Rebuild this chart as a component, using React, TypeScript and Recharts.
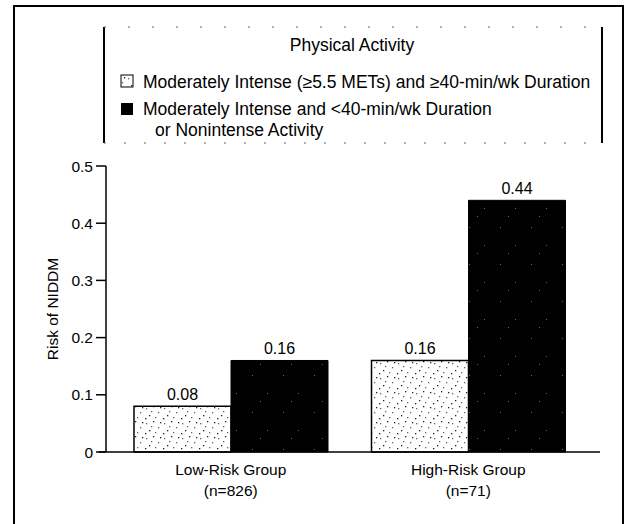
import React from 'react';
import { BarChart, Bar, XAxis, YAxis, LabelList } from 'recharts';

// valores
const CATEGORIES = ['Low-Risk Group', 'High-Risk Group'];
const SAMPLE_SIZES = ['(n=826)', '(n=71)'];
const INTENSE_LONG = [0.08, 0.16];
const OTHER_ACTIVITY = [0.16, 0.44];
const Y_TICKS = [0, 0.1, 0.2, 0.3, 0.4, 0.5];

const LEGEND_TITLE = 'Physical Activity';
const LEGEND_INTENSE = 'Moderately Intense (\u22655.5 METs) and \u226540-min/wk Duration';
const LEGEND_OTHER = ['Moderately Intense and <40-min/wk Duration', 'or Nonintense Activity'];

const FONT = "'Liberation Sans', Arial, Helvetica, sans-serif";

const data = CATEGORIES.map((group, i) => ({
  group,
  n: SAMPLE_SIZES[i],
  intense: INTENSE_LONG[i],
  other: OTHER_ACTIVITY[i],
}));

// pontinhos do "granulado" da impressão
const lightDots = [[2, 3], [9, 1], [14, 7], [5, 10], [11, 12], [16, 2], [7, 6], [1, 13]];
const darkDots = [[4, 5], [19, 23], [12, 31]];

const Patterns = () => (
  <svg width={0} height={0} style={{ position: 'absolute' }}>
    <defs>
      <pattern id="speckLight" width={18} height={15} patternUnits="userSpaceOnUse">
        <rect width={18} height={15} fill="#fff" />
        {lightDots.map(([x, y], i) => (
          <rect key={i} x={x} y={y} width={1.3} height={1.3} fill={i % 2 ? '#222' : '#666'} />
        ))}
      </pattern>
      <pattern id="speckDark" width={31} height={37} patternUnits="userSpaceOnUse">
        <rect width={31} height={37} fill="#000" />
        {darkDots.map(([x, y], i) => (
          <rect key={i} x={x} y={y} width={1} height={1} fill="#666" />
        ))}
      </pattern>
    </defs>
  </svg>
);

const GroupTick = (props: any) => {
  const { x, y, payload, index } = props;
  return (
    <g>
      <text x={x} y={y + 23} textAnchor="middle" fontSize={15.5} fontFamily={FONT} fill="#000">
        {payload.value}
      </text>
      <text x={x} y={y + 44} textAnchor="middle" fontSize={15.5} fontFamily={FONT} fill="#000">
        {SAMPLE_SIZES[index]}
      </text>
    </g>
  );
};

const Frame = () => (
  <svg width={630} height={524} style={{ position: 'absolute', left: 0, top: 0, pointerEvents: 'none' }}>
    <rect x={14} y={6} width={609} height={540} fill="none" stroke="#000" strokeWidth={2} />
    {/* caixa da legenda */}
    <line x1={104} y1={27} x2={104} y2={143} stroke="#000" strokeWidth={2} />
    <line x1={602} y1={27} x2={602} y2={143} stroke="#000" strokeWidth={2} />
    <line x1={104} y1={27} x2={602} y2={27} stroke="#666" strokeWidth={1} strokeDasharray="2 22" />
    <line x1={104} y1={143} x2={602} y2={143} stroke="#666" strokeWidth={1} strokeDasharray="2 18" />
    {/* eixo x passa um pouco à esquerda do eixo y */}
    <line x1={99} y1={452} x2={106} y2={452} stroke="#000" strokeWidth={1.5} />
    <g fontFamily={FONT} fontSize={17.5} fill="#000">
      <text x={352} y={51} textAnchor="middle">{LEGEND_TITLE}</text>
      <rect x={121} y={75} width={12} height={12} fill="url(#speckLight)" stroke="#000" strokeWidth={1} />
      <text x={143} y={88}>{LEGEND_INTENSE}</text>
      <rect x={121} y={103} width={12} height={12} fill="#000" />
      <text x={143} y={115}>{LEGEND_OTHER[0]}</text>
      <text x={155} y={136}>{LEGEND_OTHER[1]}</text>
    </g>
  </svg>
);

const App = () => (
  <div style={{ position: 'absolute', left: 0, top: 0, width: 630, height: 524, background: '#fff' }}>
    <Patterns />
    <BarChart
      width={630}
      height={524}
      data={data}
      margin={{ top: 166, right: 30, bottom: 12, left: 46 }}
      barGap={0}
      barSize={97}
    >
      <XAxis
        dataKey="group"
        height={60}
        axisLine={{ stroke: '#000', strokeWidth: 1.5 }}
        tickLine={false}
        tickSize={0}
        tickMargin={0}
        padding={{ left: 6, right: 13 }}
        tick={<GroupTick />}
        interval={0}
      />
      <YAxis
        width={60}
        domain={[0, 0.5]}
        ticks={Y_TICKS}
        tickFormatter={(v: number) => (v === 0 ? '0' : String(v))}
        axisLine={{ stroke: '#000', strokeWidth: 1.5 }}
        tickLine={{ stroke: '#000', strokeWidth: 1.5 }}
        tickSize={10}
        tickMargin={3}
        tick={{ fill: '#000', fontSize: 15.5, fontFamily: FONT }}
        label={{
          value: 'Risk of NIDDM',
          angle: -90,
          position: 'insideLeft',
          offset: 6,
          style: { textAnchor: 'middle', fill: '#000', fontSize: 15.5, fontFamily: FONT },
        }}
      />
      <Bar dataKey="intense" fill="url(#speckLight)" stroke="#000" strokeWidth={1.5} isAnimationActive={false}>
        <LabelList
          dataKey="intense"
          position="top"
          offset={6}
          formatter={(v: number) => v.toFixed(2)}
          style={{ fill: '#000', fontSize: 16, fontFamily: FONT }}
        />
      </Bar>
      <Bar dataKey="other" fill="url(#speckDark)" stroke="#000" strokeWidth={1} isAnimationActive={false}>
        <LabelList
          dataKey="other"
          position="top"
          offset={6}
          formatter={(v: number) => v.toFixed(2)}
          style={{ fill: '#000', fontSize: 16, fontFamily: FONT }}
        />
      </Bar>
    </BarChart>
    <Frame />
  </div>
);

export default App;
